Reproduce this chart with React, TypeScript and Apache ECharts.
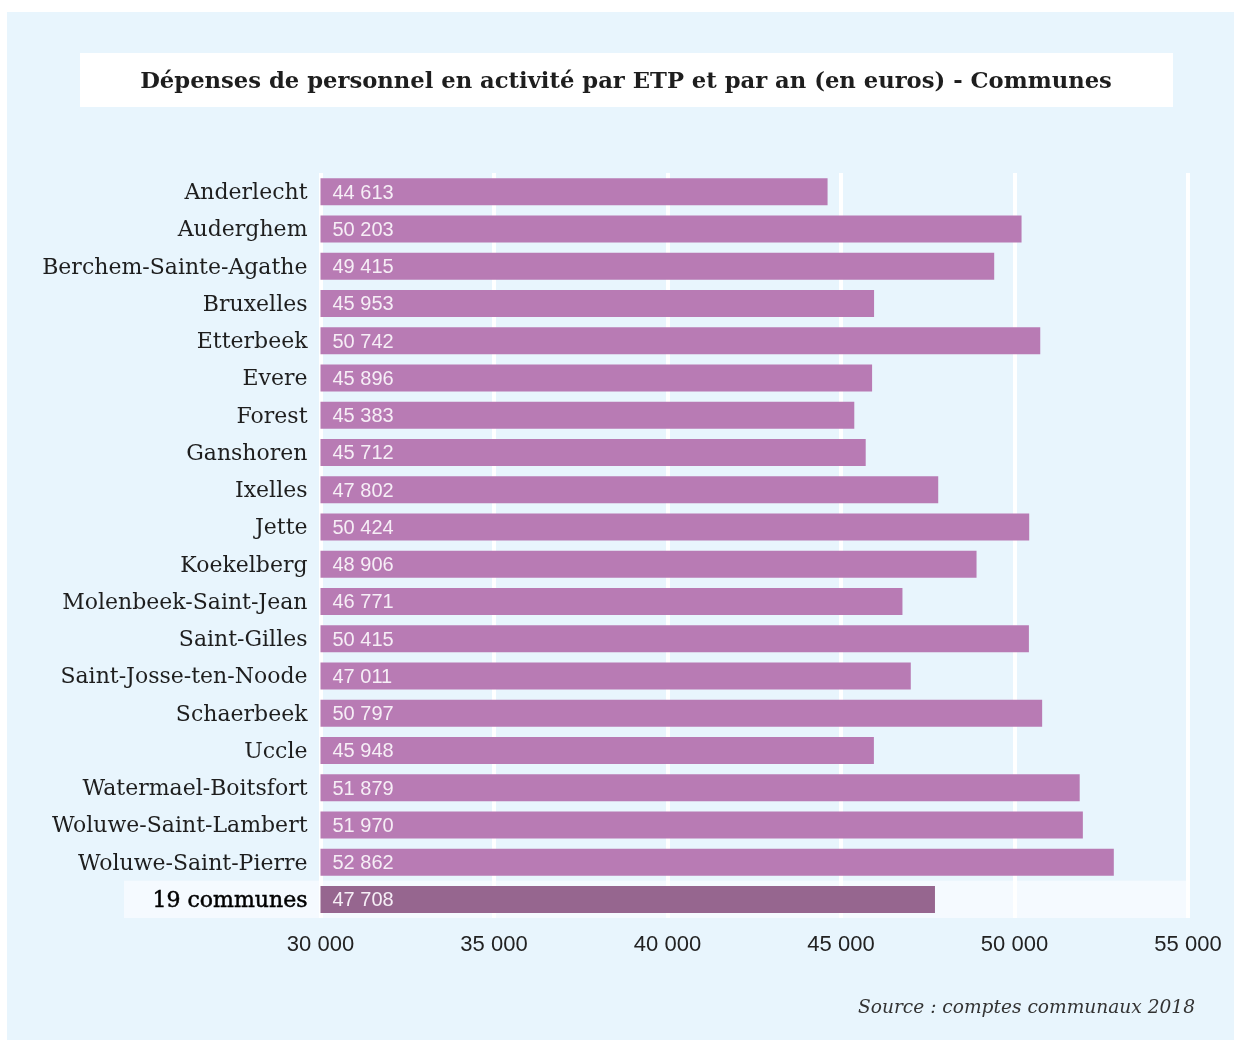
import React, { useEffect, useRef } from "react";
import * as echarts from "echarts";

const communes = [
  "Anderlecht",
  "Auderghem",
  "Berchem-Sainte-Agathe",
  "Bruxelles",
  "Etterbeek",
  "Evere",
  "Forest",
  "Ganshoren",
  "Ixelles",
  "Jette",
  "Koekelberg",
  "Molenbeek-Saint-Jean",
  "Saint-Gilles",
  "Saint-Josse-ten-Noode",
  "Schaerbeek",
  "Uccle",
  "Watermael-Boitsfort",
  "Woluwe-Saint-Lambert",
  "Woluwe-Saint-Pierre",
  "19 communes",
];

const values = [
  44613, 50203, 49415, 45953, 50742, 45896, 45383, 45712, 47802, 50424,
  48906, 46771, 50415, 47011, 50797, 45948, 51879, 51970, 52862, 47708,
];

const xTicks = [30000, 35000, 40000, 45000, 50000, 55000];

const titleText = "Dépenses de personnel en activité par ETP et par an (en euros) - Communes";
const sourceText = "Source : comptes communaux 2018";

const TOTAL = "19 communes";
const fmt = (v: number) => String(v).replace(/\B(?=(\d{3})+(?!\d))/g, " ");

export default function App() {
  const ref = useRef<HTMLDivElement>(null);
  useEffect(() => {
    if (!ref.current) return;
    const chart = echarts.init(ref.current, null, { renderer: "svg" });
    const W = 1234;
    const H = 1040;
    const gridLeft = 320.5;
    const gridRight = 46;
    const gridTop = 173;
    const gridBottom = 122;

    const baseGraphics: any[] = [
      { type: "rect", z: -100, shape: { x: 0, y: 0, width: W, height: H }, style: { fill: "#ffffff" }, silent: true },
      { type: "rect", z: -99, shape: { x: 7, y: 12, width: W - 7, height: H - 12 }, style: { fill: "#e8f5fd" }, silent: true },
      { type: "rect", z: -98, shape: { x: 80, y: 53, width: 1093, height: 54 }, style: { fill: "#ffffff" }, silent: true },
      {
        type: "text", z: 10, x: 626, y: 80,
        style: { text: titleText, fill: "#1e1e1e", font: "bold 22.7px 'DejaVu Serif'", align: "center", verticalAlign: "middle" },
      },
      {
        type: "text", z: 10, x: 1195, y: 1006,
        style: { text: sourceText, fill: "#333333", font: "italic 18.6px 'DejaVu Serif'", align: "right", verticalAlign: "middle" },
      },
    ];

    chart.setOption({
      animation: false,
      backgroundColor: "transparent",
      grid: { left: gridLeft, right: gridRight, top: gridTop, bottom: gridBottom, containLabel: false },
      xAxis: {
        type: "value",
        min: xTicks[0],
        max: xTicks[xTicks.length - 1],
        interval: 5000,
        axisLine: { show: false },
        axisTick: { show: false },
        splitLine: { show: true, lineStyle: { color: "#ffffff", width: 4 } },
        axisLabel: {
          margin: 14,
          color: "#222222",
          fontFamily: "Liberation Sans",
          fontSize: 22,
          formatter: (v: number) => fmt(v),
        },
      },
      yAxis: {
        type: "category",
        data: communes,
        inverse: true,
        axisLine: { show: false },
        axisTick: { show: false },
        axisLabel: {
          margin: 13,
          color: "#1e1e1e",
          fontFamily: "DejaVu Serif",
          fontSize: 22,
          formatter: (v: string) => (v === TOTAL ? "{b|" + v + "}" : v),
          rich: { b: { fontWeight: "normal", fontFamily: "DejaVu Serif", fontSize: 22, color: "#000000", textBorderColor: "#000000", textBorderWidth: 0.5 } },
        },
      },
      series: [
        {
          type: "bar",
          barWidth: 27,
          data: values.map((v, i) => ({
            value: v,
            itemStyle: { color: communes[i] === TOTAL ? "#96668f" : "#b87bb4" },
          })),
          label: {
            show: true,
            position: "insideLeft",
            offset: [7, 0],
            color: "#f6eef6",
            fontFamily: "Liberation Sans",
            fontSize: 20,
            formatter: (p: any) => fmt(p.value),
          },
        },
      ],
      graphic: { elements: baseGraphics },
    });

    const idx = communes.indexOf(TOTAL);
    const yc = chart.convertToPixel({ yAxisIndex: 0 }, idx) as number;
    const band = (H - gridTop - gridBottom) / communes.length;
    const xRight = chart.convertToPixel({ xAxisIndex: 0 }, xTicks[xTicks.length - 1]) as number;
    chart.setOption({
      graphic: {
        elements: [
          ...baseGraphics,
          {
            type: "rect", z: -90, silent: true,
            shape: { x: 124, y: yc - band / 2, width: xRight - 124, height: band },
            style: { fill: "#f5faff" },
          },
        ],
      },
    });

    return () => chart.dispose();
  }, []);
  return <div ref={ref} style={{ position: "fixed", left: 0, top: 0, width: 1234, height: 1040 }} />;
}
